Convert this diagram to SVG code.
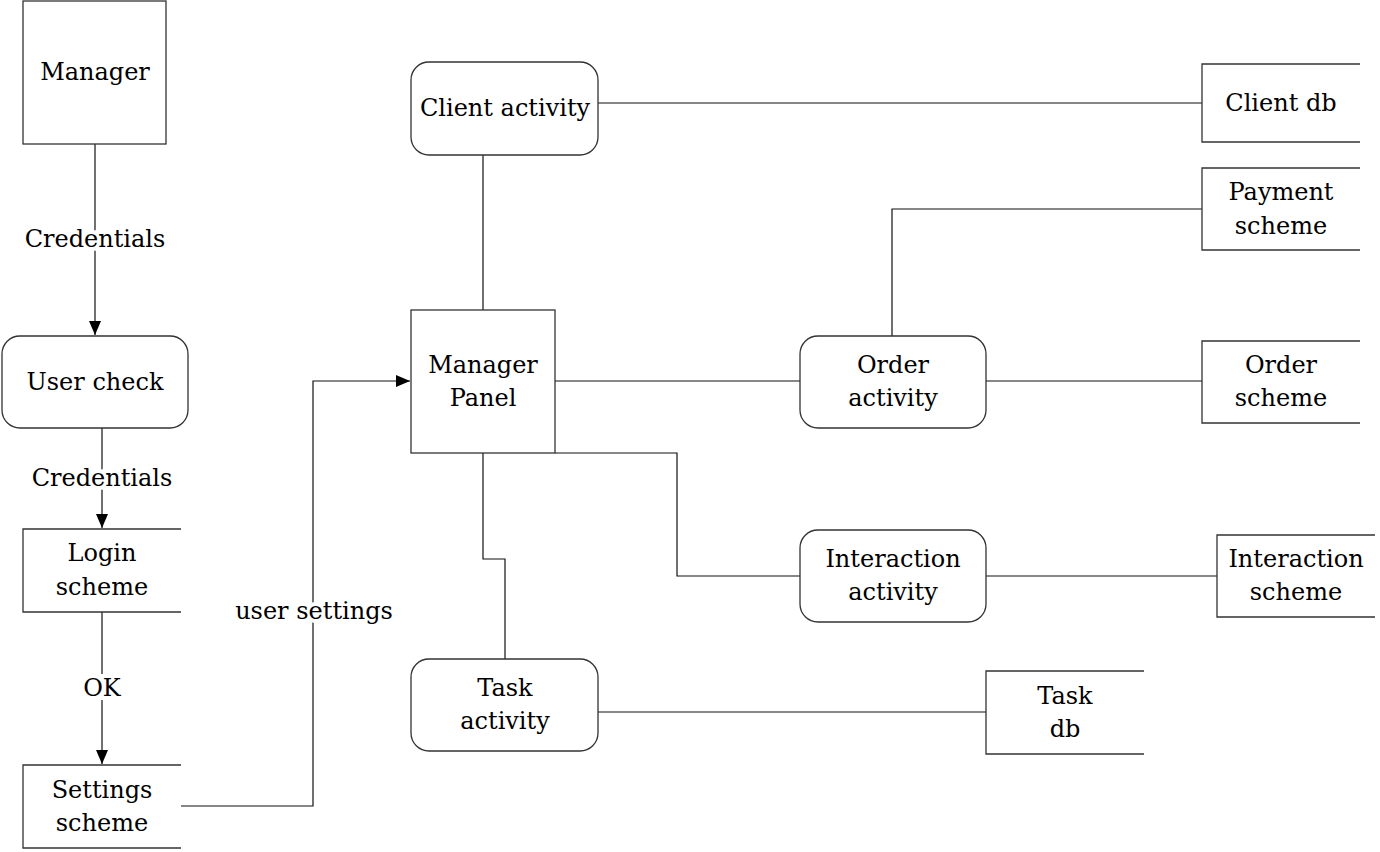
<svg xmlns="http://www.w3.org/2000/svg" width="1380" height="852" viewBox="0 0 1380 852">
<defs>
<marker id="arr" viewBox="0 0 14 12" refX="14" refY="6" markerWidth="14" markerHeight="12" markerUnits="userSpaceOnUse" orient="auto">
<path d="M0,0 L14,6 L0,12 z" fill="#000"/>
</marker>
<style>
.box{fill:#fff;stroke:#333;stroke-width:1.3}
.ds{fill:none;stroke:#333;stroke-width:1.3}
.ln{fill:none;stroke:#111;stroke-width:1.2}
text{font-family:"DejaVu Serif","Liberation Serif",serif;font-size:24px;fill:#000;text-anchor:middle}
.lbl{stroke:#fff;stroke-width:8;paint-order:stroke}
</style>
</defs>
<rect width="1380" height="852" fill="#fff"/>
<g id="connectors">
<line class="ln" x1="95" y1="144" x2="95" y2="335" marker-end="url(#arr)"/>
<line class="ln" x1="102" y1="428" x2="102" y2="528" marker-end="url(#arr)"/>
<line class="ln" x1="102" y1="612" x2="102" y2="764" marker-end="url(#arr)"/>
<polyline class="ln" points="181,806 313,806 313,381 410,381" marker-end="url(#arr)"/>
<line class="ln" x1="483" y1="155" x2="483" y2="310"/>
<line class="ln" x1="598" y1="103" x2="1202" y2="103"/>
<polyline class="ln" points="892,336 892,209 1202,209"/>
<line class="ln" x1="555" y1="381" x2="800" y2="381"/>
<line class="ln" x1="986" y1="381" x2="1202" y2="381"/>
<polyline class="ln" points="555,453 677,453 677,576 800,576"/>
<line class="ln" x1="986" y1="576" x2="1217" y2="576"/>
<polyline class="ln" points="483,453 483,559 505,559 505,659"/>
<line class="ln" x1="598" y1="712" x2="986" y2="712"/>
<text class="lbl" x="95" y="247">Credentials</text>
<text class="lbl" x="102" y="486">Credentials</text>
<text class="lbl" x="102" y="696">OK</text>
<text class="lbl" x="314" y="619">user settings</text>
</g>
<g id="manager">
<rect class="box" x="23" y="1" width="143" height="143"/>
<text x="95" y="80">Manager</text>
</g>
<g id="user-check">
<rect class="box" x="2" y="336" width="186" height="92" rx="18"/>
<text x="95" y="390">User check</text>
</g>
<g id="login-scheme">
<path class="ds" d="M181,529 H23 V612 H181"/>
<text x="102" y="561">Login</text>
<text x="102" y="595">scheme</text>
</g>
<g id="settings-scheme">
<path class="ds" d="M181,765 H23 V848 H181"/>
<text x="102" y="798">Settings</text>
<text x="102" y="831">scheme</text>
</g>
<g id="manager-panel">
<rect class="box" x="411" y="310" width="144" height="143"/>
<text x="483" y="373">Manager</text>
<text x="483" y="406">Panel</text>
</g>
<g id="client-activity">
<rect class="box" x="411" y="62" width="187" height="93" rx="18"/>
<text x="505" y="116">Client activity</text>
</g>
<g id="client-db">
<path class="ds" d="M1360,64 H1202 V142 H1360"/>
<text x="1281" y="111">Client db</text>
</g>
<g id="payment-scheme">
<path class="ds" d="M1360,168 H1202 V250 H1360"/>
<text x="1281" y="200">Payment</text>
<text x="1281" y="234">scheme</text>
</g>
<g id="order-activity">
<rect class="box" x="800" y="336" width="186" height="92" rx="18"/>
<text x="893" y="373">Order</text>
<text x="893" y="406">activity</text>
</g>
<g id="order-scheme">
<path class="ds" d="M1360,341 H1202 V423 H1360"/>
<text x="1281" y="373">Order</text>
<text x="1281" y="406">scheme</text>
</g>
<g id="interaction-activity">
<rect class="box" x="800" y="530" width="186" height="92" rx="18"/>
<text x="893" y="567">Interaction</text>
<text x="893" y="600">activity</text>
</g>
<g id="interaction-scheme">
<path class="ds" d="M1375,535 H1217 V617 H1375"/>
<text x="1296" y="567">Interaction</text>
<text x="1296" y="600">scheme</text>
</g>
<g id="task-activity">
<rect class="box" x="411" y="659" width="187" height="92" rx="18"/>
<text x="505" y="696">Task</text>
<text x="505" y="729">activity</text>
</g>
<g id="task-db">
<path class="ds" d="M1144,671 H986 V754 H1144"/>
<text x="1065" y="704">Task</text>
<text x="1065" y="737">db</text>
</g>
</svg>
